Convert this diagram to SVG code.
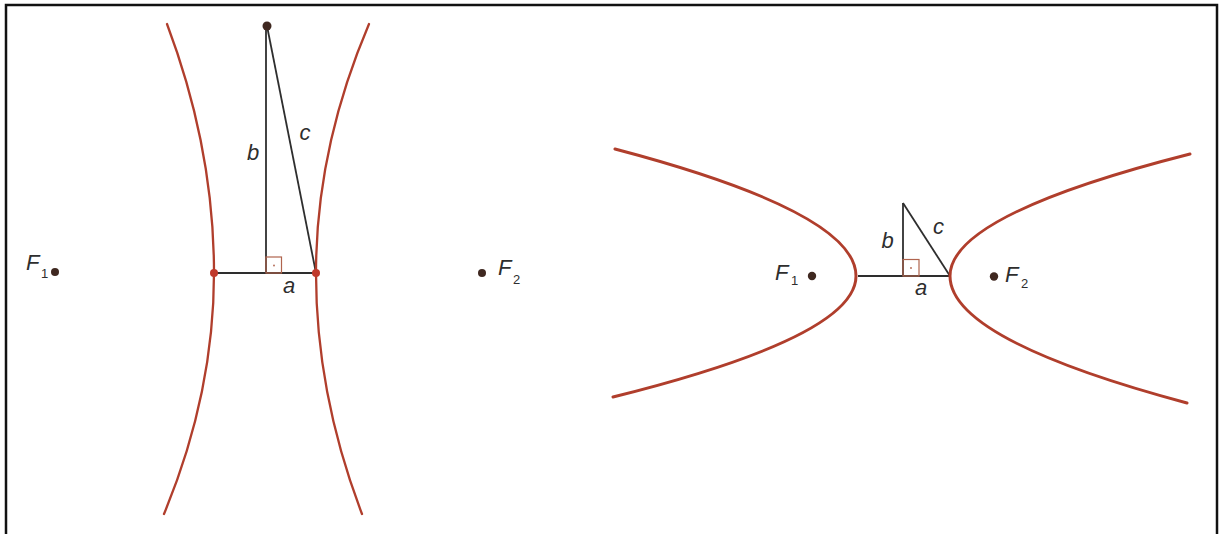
<svg xmlns="http://www.w3.org/2000/svg" width="1221" height="534" viewBox="0 0 1221 534">
<style>
.curve{fill:none;stroke:#b03e2c;stroke-linecap:round}
.seg{fill:none;stroke:#2e2e2e;stroke-width:1.8}
.ra{fill:none;stroke:#b0644e;stroke-width:1.2}
.lbl{font-family:"Liberation Sans",Arial,sans-serif;font-style:italic;font-size:22px;fill:#2e2e2e}
.sub{font-family:"Liberation Sans",Arial,sans-serif;font-size:13px;fill:#2e2e2e}
.focus{fill:#3f2820}
</style>
<rect x="0" y="0" width="1221" height="534" fill="#ffffff"/>
<rect id="frame" x="6" y="5" width="1211" height="560" fill="none" stroke="#111" stroke-width="2.5"/>

<g id="connectors">
  <line class="seg" x1="214" y1="273" x2="316" y2="273"/>
  <line class="seg" x1="266" y1="26" x2="266" y2="273"/>
  <line class="seg" x1="267" y1="26" x2="316" y2="273"/>
  <line class="seg" x1="858" y1="276" x2="950" y2="276"/>
  <line class="seg" x1="903" y1="203" x2="903" y2="276"/>
  <line class="seg" x1="903" y1="203" x2="950" y2="276"/>
</g>

<g id="left-hyperbola">
  <path class="curve" stroke-width="2.3" d="M167,24 Q214,148.5 214,273 Q214,393.5 164,514"/>
  <path class="curve" stroke-width="2.3" d="M369,24 Q316,148.5 316,273 Q316,393.5 362,514"/>
  <circle cx="214" cy="273" r="4" fill="#c0392b"/>
  <circle cx="316" cy="273" r="4" fill="#c0392b"/>
</g>

<g id="left-triangle">
  <circle cx="267" cy="26" r="4.5" class="focus"/>
  <rect class="ra" x="266" y="257" width="15.5" height="16"/>
  <circle cx="274" cy="265.5" r="0.9" fill="#b0644e"/>
  <text class="lbl" x="253" y="160" text-anchor="middle">b</text>
  <text class="lbl" x="305" y="140" text-anchor="middle">c</text>
  <text class="lbl" x="289" y="293" text-anchor="middle">a</text>
</g>

<g id="left-F1">
  <circle cx="55" cy="272" r="4" class="focus"/>
  <text class="lbl" x="26" y="270">F</text>
  <text class="sub" x="41" y="278">1</text>
</g>
<g id="left-F2">
  <circle cx="482" cy="273" r="4" class="focus"/>
  <text class="lbl" x="498" y="275">F</text>
  <text class="sub" x="513" y="284">2</text>
</g>

<g id="right-hyperbola">
  <path class="curve" stroke-width="3" d="M615,149 Q856,212.5 856,276 Q856,336.5 613,397"/>
  <path class="curve" stroke-width="3" d="M1190,154 Q950,215 950,276 Q950,339.5 1187,403"/>
</g>

<g id="right-triangle">
  <rect class="ra" x="903" y="259.5" width="16" height="16.5"/>
  <circle cx="911" cy="268" r="0.9" fill="#b0644e"/>
  <text class="lbl" x="887.5" y="248" text-anchor="middle">b</text>
  <text class="lbl" x="938.5" y="234" text-anchor="middle">c</text>
  <text class="lbl" x="921" y="295" text-anchor="middle">a</text>
</g>

<g id="right-F1">
  <circle cx="812" cy="276" r="4.2" class="focus"/>
  <text class="lbl" x="775" y="280">F</text>
  <text class="sub" x="791" y="285">1</text>
</g>
<g id="right-F2">
  <circle cx="994" cy="276.5" r="4.2" class="focus"/>
  <text class="lbl" x="1005" y="282">F</text>
  <text class="sub" x="1021" y="288">2</text>
</g>
</svg>
